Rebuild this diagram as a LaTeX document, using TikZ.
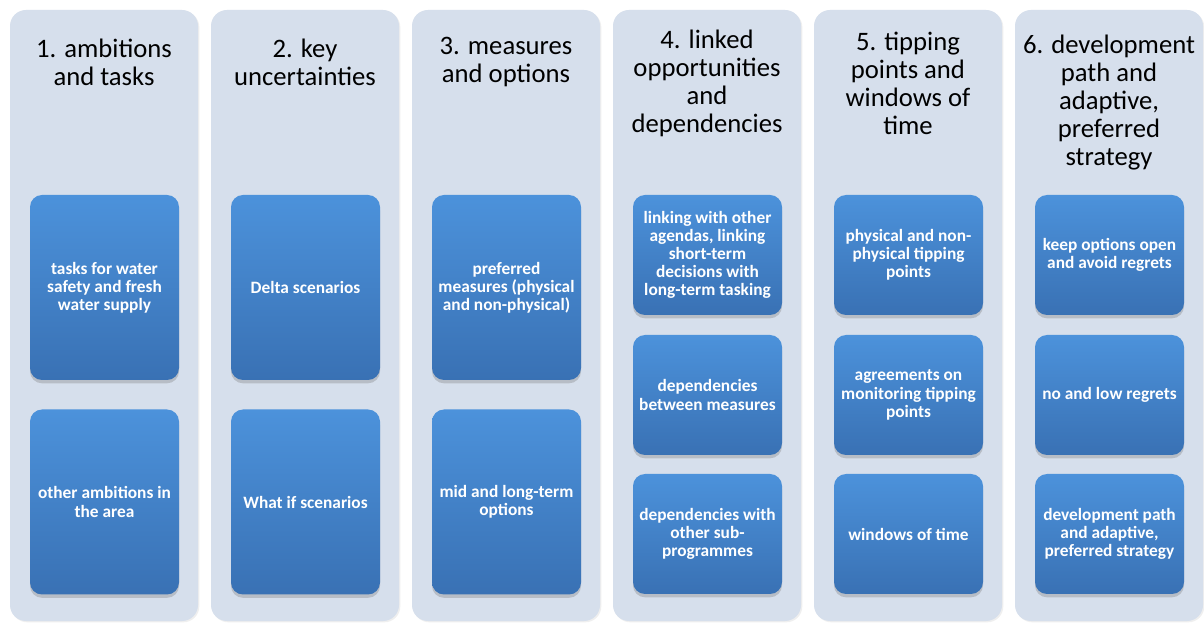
\documentclass[tikz,border=0pt]{standalone}
\usepackage{fontspec}
\setmainfont{Carlito}
\usepackage{tikz}
\usetikzlibrary{shadows}

\definecolor{colfill}{RGB}{214,223,236}
\definecolor{boxtop}{RGB}{76,146,219}
\definecolor{boxbot}{RGB}{57,113,180}

\begin{document}
\begin{tikzpicture}[x=0.75pt,y=0.75pt,yscale=-1,xscale=1,
  column/.style={fill=colfill,rounded corners=12pt,minimum width=141pt,minimum height=458.25pt,inner sep=0pt,
    drop shadow={shadow xshift=1pt,shadow yshift=-1pt,opacity=0.12}},
  head/.style={align=center,inner sep=0pt,font=\fontsize{20}{21}\selectfont,text=black},
  taskbox/.style={top color=boxtop,bottom color=boxbot,rounded corners=9pt,minimum width=111.75pt,inner sep=2pt,
    align=center,text=white,font=\fontsize{13}{13.6}\selectfont\bfseries,
    drop shadow={shadow xshift=0pt,shadow yshift=-2.5pt,opacity=0.35}},
  tall/.style={taskbox,minimum height=138.75pt},
  short/.style={taskbox,minimum height=90pt}]
\useasboundingbox (0,0) rectangle (1204,623);
\fill [white] (0,0) rectangle (1204,623);

% Columns
\node [column] (col1) at (104,315.5) {};
\node [column] (col2) at (305,315.5) {};
\node [column] (col3) at (506,315.5) {};
\node [column] (col4) at (707,315.5) {};
\node [column] (col5) at (908,315.5) {};
\node [column] (col6) at (1109,315.5) {};

% Headers
\node [head] (head1) at (104,62) {1. ambitions\\and tasks};
\node [head] (head2) at (305,62) {2. key\\uncertainties};
\node [head] (head3) at (506,62) {3. measures\\and options};
\node [head] (head4) at (707,83.5) {4. linked\\opportunities\\and\\dependencies};
\node [head] (head5) at (908,83.5) {5. tipping\\points and\\windows of\\time};
\node [head] (head6) at (1109,103) {6. development\\path and\\adaptive,\\preferred\\strategy};

% Column 1
\node [tall] (tasks) at (104.5,287.5) {tasks for water\\safety and fresh\\water supply};
\node [tall] (ambitions) at (104.5,502) {other ambitions in\\the area};

% Column 2
\node [tall] (delta) at (305.5,287.5) {Delta scenarios};
\node [tall] (whatif) at (305.5,502) {What if scenarios};

% Column 3
\node [tall] (preferred) at (506.5,287.5) {preferred\\measures (physical\\and non-physical)};
\node [tall] (midlong) at (506.5,502) {mid and long-term\\options};

% Column 4
\node [short] (linking) at (707.5,255) {linking with other\\agendas, linking\\short-term\\decisions with\\long-term tasking};
\node [short] (depmeas) at (707.5,395) {dependencies\\between measures};
\node [short] (depsub) at (707.5,534) {dependencies with\\other sub-\\programmes};

% Column 5
\node [short] (physical) at (908.5,255) {physical and non-\\physical tipping\\points};
\node [short] (agreements) at (908.5,395) {agreements on\\monitoring tipping\\points};
\node [short] (windows) at (908.5,534) {windows of time};

% Column 6
\node [short] (keepopen) at (1109.5,255) {keep options open\\and avoid regrets};
\node [short] (noregrets) at (1109.5,395) {no and low regrets};
\node [short] (devpath) at (1109.5,534) {development path\\and adaptive,\\preferred strategy};

\end{tikzpicture}
\end{document}
